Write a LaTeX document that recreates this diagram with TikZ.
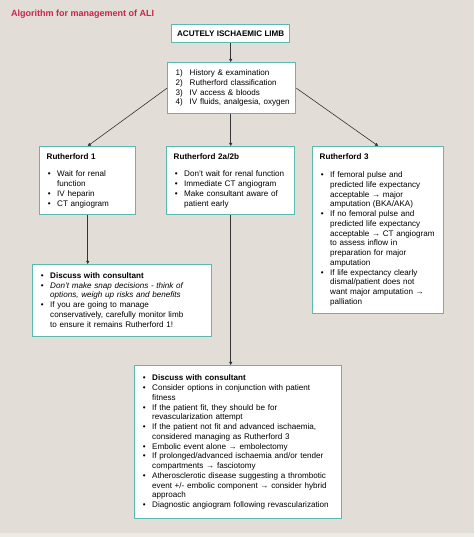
\documentclass[tikz,border=0pt]{standalone}
\usepackage{fontspec}
\setmainfont{Liberation Sans}
\usetikzlibrary{arrows.meta}
\definecolor{bgc}{HTML}{E3DDD7}
\definecolor{bgl}{HTML}{EEEAE6}
\definecolor{tealc}{HTML}{5CB9AF}
\definecolor{titlec}{HTML}{C8254B}
\definecolor{linec}{HTML}{333333}
\newcommand{\B}{\makebox[10.5pt][l]{\hspace{1.2pt}•}}
\newcommand{\Hd}[1]{\multicolumn{2}{@{}l@{}}{\bfseries #1}\\[8pt]}
\tikzset{
  boxs/.style={draw=tealc, line width=1.4pt, fill=white, anchor=north west,
    inner xsep=7pt, inner ysep=3pt, align=left,
    font=\fontsize{8.1}{9.75}\selectfont},
  conn/.style={draw=linec, line width=0.6pt},
  arr/.style={conn, -{Triangle[length=3.2pt,width=3.2pt]}}
}
\begin{document}
\begin{tikzpicture}[x=1pt,y=-1pt]
\useasboundingbox (0,0) rectangle (474,537);
\fill[bgc] (0,0) rectangle (474,533);
\fill[bgl] (0,533) rectangle (474,537);

\node[anchor=base west, text=titlec, font=\fontsize{9}{11}\selectfont\bfseries, inner sep=0pt] (title) at (11,17) {Algorithm for management of ALI};

\node[draw=tealc, line width=1.4pt, fill=white, anchor=north west, minimum width=118pt, minimum height=18pt, inner sep=0pt, font=\fontsize{8.1}{9.75}\selectfont\bfseries] (top) at (171,24) {ACUTELY ISCHAEMIC LIMB};

\node[boxs, minimum width=128pt, minimum height=51pt, text width=114pt] (steps) at (167,62) {%
\begin{tabular}{@{\hspace{1pt}}l@{}l@{}}
\makebox[14pt][l]{1)} & History \& examination\\
\makebox[14pt][l]{2)} & Rutherford classification\\
\makebox[14pt][l]{3)} & IV access \& bloods\\
\makebox[14pt][l]{4)} & IV fluids, analgesia, oxygen
\end{tabular}};

\node[boxs, minimum width=96pt, minimum height=68pt, text width=82pt] (r1) at (39,146) {%
\begin{tabular}{@{}l@{}l@{}}
\Hd{Rutherford 1}
\B & Wait for renal\\
   & function\\
\B & IV heparin\\
\B & CT angiogram
\end{tabular}};

\node[boxs, minimum width=128pt, minimum height=68pt, text width=114pt] (r2) at (166,146) {%
\begin{tabular}{@{}l@{}l@{}}
\Hd{Rutherford 2a/2b}
\B & Don’t wait for renal function\\
\B & Immediate CT angiogram\\
\B & Make consultant aware of\\
   & patient early
\end{tabular}};

\node[boxs, minimum width=131pt, minimum height=167pt, text width=117pt] (r3) at (312,146) {%
\begin{tabular}{@{}l@{}l@{}}
\Hd{Rutherford 3}
\B & If femoral pulse and\\
   & predicted life expectancy\\
   & acceptable → major\\
   & amputation (BKA/AKA)\\
\B & If no femoral pulse and\\
   & predicted life expectancy\\
   & acceptable → CT angiogram\\
   & to assess inflow in\\
   & preparation for major\\
   & amputation\\
\B & If life expectancy clearly\\
   & dismal/patient does not\\
   & want major amputation →\\
   & palliation
\end{tabular}};

\node[boxs, minimum width=179pt, minimum height=72pt, text width=165pt] (d1) at (32,264) {%
\begin{tabular}{@{}l@{}l@{}}
\B & \bfseries Discuss with consultant\\
\B & \itshape Don’t make snap decisions - think of\\
   & \itshape options, weigh up risks and benefits\\
\B & If you are going to manage\\
   & conservatively, carefully monitor limb\\
   & to ensure it remains Rutherford 1!
\end{tabular}};

\node[boxs, minimum width=207pt, minimum height=153pt, text width=193pt] (d2) at (134,365) {%
\begin{tabular}{@{}l@{}l@{}}
\B & \bfseries Discuss with consultant\\
\B & Consider options in conjunction with patient\\
   & fitness\\
\B & If the patient fit, they should be for\\
   & revascularization attempt\\
\B & If the patient not fit and advanced ischaemia,\\
   & considered managing as Rutherford 3\\
\B & Embolic event alone → embolectomy\\
\B & If prolonged/advanced ischaemia and/or tender\\
   & compartments → fasciotomy\\
\B & Atherosclerotic disease suggesting a thrombotic\\
   & event +/- embolic component → consider hybrid\\
   & approach\\
\B & Diagnostic angiogram following revascularization
\end{tabular}};

\draw[arr] (top.south) -- (steps.north -| top.south);
\draw[arr] (steps.west) -- (r1.north);
\draw[arr] (steps.east) -- (r3.north);
\draw[arr] (steps.south -| r2.north) -- (r2.north);
\draw[arr] (r1.south) -- (r1.south |- d1.north);
\draw[arr] (r2.south) -- (r2.south |- d2.north);
\end{tikzpicture}
\end{document}
